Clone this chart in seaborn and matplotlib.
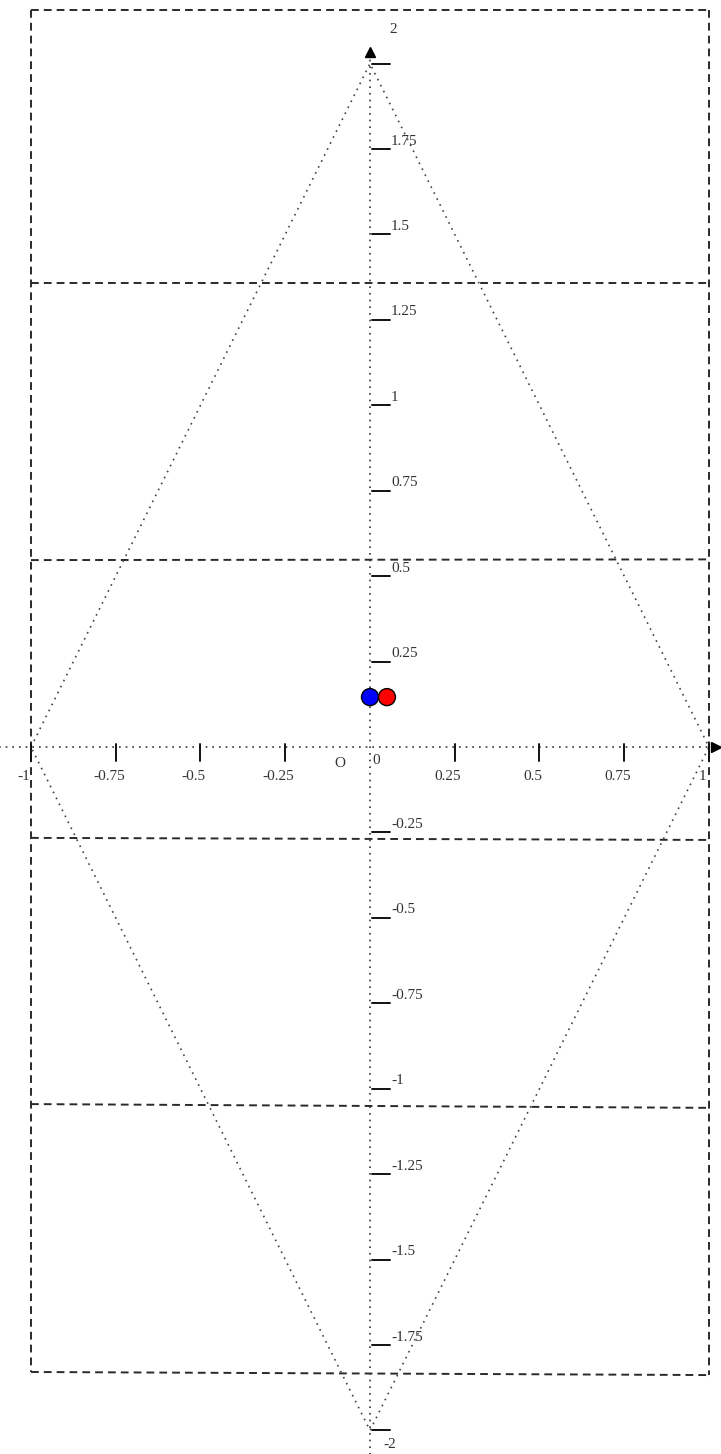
import numpy as np
import pandas as pd
import seaborn as sns
import matplotlib.pyplot as plt

# ---- data ----
diamond_x = [-1, 0, 1, 0, -1]
diamond_y = [0, 2, 0, -2, 0]

# dashed horizontal bands (left end y, right end y)
band_left_y = [2.157, 1.358, 0.547, -0.266, -1.045, -1.829]
band_right_y = [2.157, 1.358, 0.549, -0.272, -1.056, -1.838]
band_x = [-1, 1]

pt_name = ["A", "B"]
pt_x = [0.0, 0.05]
pt_y = [0.146, 0.146]
pt_colors = ["#0000ff", "#ff0000"]

y_ticks = [2, 1.75, 1.5, 1.25, 1, 0.75, 0.5, 0.25,
           -0.25, -0.5, -0.75, -1, -1.25, -1.5, -1.75, -2]
y_tick_labels = ["2", "1.75", "1.5", "1.25", "1", "0.75", "0.5", "0.25",
                 "-0.25", "-0.5", "-0.75", "-1", "-1.25", "-1.5", "-1.75", "-2"]
x_ticks = [-1, -0.75, -0.5, -0.25, 0.25, 0.5, 0.75, 1]
x_tick_labels = ["-1", "-0.75", "-0.5", "-0.25", "0.25", "0.5", "0.75", "1"]

# ---- figure ----
sns.set_theme(style="white")
plt.rcParams['font.family'] = ['Liberation Serif', 'DejaVu Serif']

fig = plt.figure(figsize=(7.21, 14.54), dpi=100)
ax = fig.add_axes([0, 0, 1, 1])
ax.set_xlim(-1.0914, 1.0354)
ax.set_ylim(-2.069, 2.186)
ax.set_axis_off()

# dashed frame + horizontal bands
rows = []
for i, (yl, yr) in enumerate(zip(band_left_y, band_right_y)):
    rows.append({"x": band_x[0], "y": yl, "seg": f"h{i}"})
    rows.append({"x": band_x[1], "y": yr, "seg": f"h{i}"})
rows += [{"x": -1, "y": band_left_y[0], "seg": "vl"},
         {"x": -1, "y": band_left_y[-1], "seg": "vl"},
         {"x": 1, "y": band_right_y[0], "seg": "vr"},
         {"x": 1, "y": band_right_y[-1], "seg": "vr"}]
dash_df = pd.DataFrame(rows)
sns.lineplot(data=dash_df, x="x", y="y", units="seg", estimator=None, sort=False,
             ax=ax, color="#2a2a2a", linewidth=1.4, linestyle=(0, (4, 2.6)))

# dotted diamond
sns.lineplot(x=diamond_x, y=diamond_y, sort=False, estimator=None, ax=ax,
             color="#444444", linewidth=1.2, linestyle=(0, (1, 3)))

# dotted axes
axes_df = pd.DataFrame({"x": [-1.1, 1.04, 0, 0],
                        "y": [0, 0, 2.03, -2.07],
                        "seg": ["x", "x", "y", "y"]})
sns.lineplot(data=axes_df, x="x", y="y", units="seg", estimator=None, sort=False,
             ax=ax, color="#333333", linewidth=1.2, linestyle=(0, (1, 3)))

# arrow heads
ax.plot([0], [2.034], marker="^", color="black", markersize=7, clip_on=False)
ax.plot([1.02], [0], marker=">", color="black", markersize=7, clip_on=False)

# tick marks
for yv in y_ticks:
    ax.plot([0.006, 0.058], [yv, yv], color="#111111", linewidth=1.4)
for xv in x_ticks:
    ax.plot([xv, xv], [0.01, -0.04], color="#111111", linewidth=1.4)

# tick labels
for yv, lab in zip(y_ticks, y_tick_labels):
    if lab == "2":
        ax.text(0.058, 2.1, lab, ha="left", va="center", fontsize=11, color="#333333")
    elif lab == "-2":
        ax.text(0.04, -2.04, lab, ha="left", va="center", fontsize=11, color="#333333")
    else:
        ax.text(0.062, yv + 0.004, lab, ha="left", va="bottom",
                fontsize=11, color="#333333")
for xv, lab in zip(x_ticks, x_tick_labels):
    ax.text(xv - 0.02, -0.068, lab, ha="center", va="top",
            fontsize=11, color="#333333")
ax.text(0.006, -0.02, "0", ha="left", va="top", fontsize=11, color="#333333")
ax.text(-0.09, -0.03, "O", ha="center", va="top", fontsize=11, color="#333333")

# points
sns.scatterplot(x=pt_x, y=pt_y, hue=pt_name, palette=pt_colors, s=150,
                edgecolor="black", linewidth=1.0, legend=False, ax=ax, zorder=5)

fig.savefig("out.png", dpi=100)
